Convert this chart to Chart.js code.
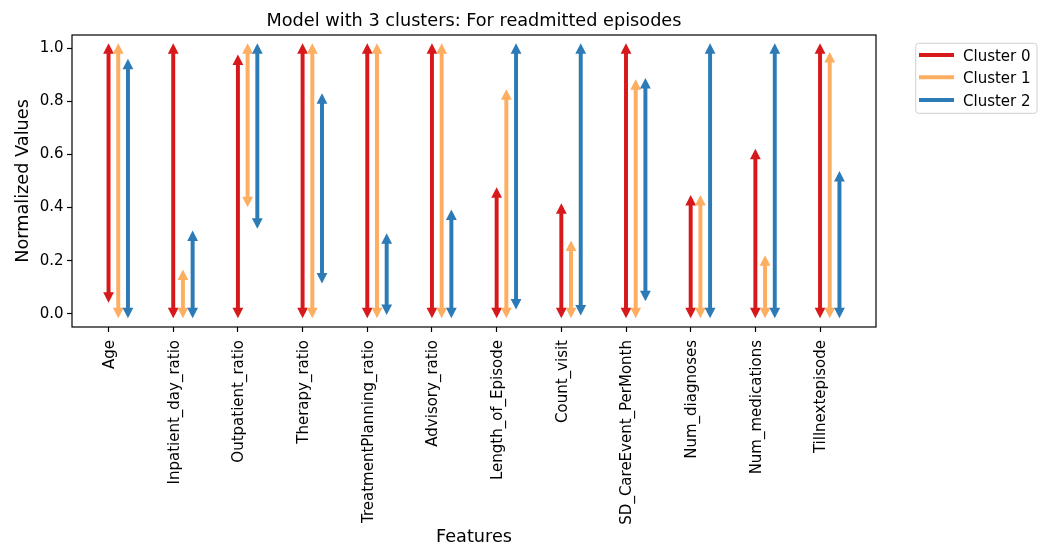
<!DOCTYPE html>
<html>
<head>
<meta charset="utf-8">
<script src="https://cdn.jsdelivr.net/npm/chart.js@4.4.1/dist/chart.umd.min.js"></script>
<style>
  html, body { margin: 0; padding: 0; background: #ffffff; }
  #wrap { width: 1051px; height: 546px; }
</style>
</head>
<body>
<div id="wrap"><canvas id="c" width="1051" height="546"></canvas></div>
<script>
// Features on the x axis
const features = ['Age', 'Inpatient_day_ratio', 'Outpatient_ratio', 'Therapy_ratio',
  'TreatmentPlanning_ratio', 'Advisory_ratio', 'Length_of_Episode', 'Count_visit',
  'SD_CareEvent_PerMonth', 'Num_diagnoses', 'Num_medications', 'Tillnextepisode'];

// Normalized min / max per feature for each cluster
const cluster0Min = [0.06, 0, 0, 0, 0, 0, 0, 0, 0, 0, 0, 0];
const cluster0Max = [1, 1, 0.958, 1, 1, 1, 0.458, 0.397, 1, 0.428, 0.603, 1];
const cluster1Min = [0, 0, 0.42, 0, 0, 0, 0, 0, 0, 0, 0, 0];
const cluster1Max = [1, 0.148, 1, 1, 1, 1, 0.827, 0.257, 0.864, 0.428, 0.201, 0.967];
const cluster2Min = [0, 0, 0.339, 0.133, 0.014, 0, 0.035, 0.012, 0.066, 0, 0, 0];
const cluster2Max = [0.942, 0.295, 1, 0.812, 0.284, 0.374, 1, 1, 0.869, 1, 1, 0.519];

const clusterNames = ['Cluster 0', 'Cluster 1', 'Cluster 2'];
const yTicks = [0.0, 0.2, 0.4, 0.6, 0.8, 1.0];

const colors = ['#d7191c', '#fdae61', '#2c7bb6'];
const offsets = [0, 0.15, 0.3];
const FONT = "'DejaVu Sans', sans-serif";

function rangeData(mins, maxs, off) {
  return features.map((f, i) => ({ x: i + off, y: [mins[i], maxs[i]] }));
}

const ranges = [[cluster0Min, cluster0Max], [cluster1Min, cluster1Max], [cluster2Min, cluster2Max]];

const datasets = ranges.map((r, k) => ({
  label: clusterNames[k],
  data: rangeData(r[0], r[1], offsets[k]),
  backgroundColor: colors[k],
  borderWidth: 0,
  barThickness: 3.3,
  grouped: false
}));

// Arrow heads at both ends of each range, plus frame, titles and legend
const decorations = {
  id: 'decorations',
  afterDatasetsDraw(chart) {
    const ctx = chart.ctx;
    const headLen = 10.5, halfW = 5.4, over = 5;
    chart.data.datasets.forEach((ds, d) => {
      const meta = chart.getDatasetMeta(d);
      ctx.save();
      ctx.fillStyle = ds.backgroundColor;
      meta.data.forEach(el => {
        const p = el.getProps(['x', 'y', 'base'], true);
        const top = Math.min(p.y, p.base), bot = Math.max(p.y, p.base);
        // upper head
        ctx.beginPath();
        ctx.moveTo(p.x, top - over);
        ctx.lineTo(p.x - halfW, top - over + headLen);
        ctx.lineTo(p.x + halfW, top - over + headLen);
        ctx.closePath();
        ctx.fill();
        // lower head
        ctx.beginPath();
        ctx.moveTo(p.x, bot + over);
        ctx.lineTo(p.x - halfW, bot + over - headLen);
        ctx.lineTo(p.x + halfW, bot + over - headLen);
        ctx.closePath();
        ctx.fill();
      });
      ctx.restore();
    });
  },
  afterDraw(chart) {
    const ctx = chart.ctx;
    const a = chart.chartArea;
    ctx.save();
    // axes frame
    ctx.strokeStyle = '#000000';
    ctx.lineWidth = 1.2;
    ctx.strokeRect(a.left, a.top, a.right - a.left, a.bottom - a.top);

    // title
    ctx.fillStyle = '#000000';
    ctx.font = '17.7px ' + FONT;
    ctx.textAlign = 'center';
    ctx.textBaseline = 'alphabetic';
    ctx.fillText('Model with 3 clusters: For readmitted episodes', (a.left + a.right) / 2, 26);

    // axis titles
    ctx.fillText('Features', (a.left + a.right) / 2, 542);
    ctx.save();
    ctx.translate(28, (a.top + a.bottom) / 2);
    ctx.rotate(-Math.PI / 2);
    ctx.fillText('Normalized Values', 0, 0);
    ctx.restore();

    // legend
    const lx = 915.7, ly = 43.3, lw = 121.3, lh = 70, r = 3;
    ctx.beginPath();
    ctx.moveTo(lx + r, ly);
    ctx.lineTo(lx + lw - r, ly);
    ctx.arcTo(lx + lw, ly, lx + lw, ly + r, r);
    ctx.lineTo(lx + lw, ly + lh - r);
    ctx.arcTo(lx + lw, ly + lh, lx + lw - r, ly + lh, r);
    ctx.lineTo(lx + r, ly + lh);
    ctx.arcTo(lx, ly + lh, lx, ly + lh - r, r);
    ctx.lineTo(lx, ly + r);
    ctx.arcTo(lx, ly, lx + r, ly, r);
    ctx.closePath();
    ctx.fillStyle = 'rgba(255,255,255,0.8)';
    ctx.fill();
    ctx.strokeStyle = '#d0d0d0';
    ctx.lineWidth = 1;
    ctx.stroke();

    const rows = [55, 77.3, 100];
    ctx.font = '15px ' + FONT;
    ctx.textAlign = 'left';
    clusterNames.forEach((name, k) => {
      ctx.strokeStyle = colors[k];
      ctx.lineWidth = 4;
      ctx.lineCap = 'butt';
      ctx.beginPath();
      ctx.moveTo(919, rows[k]);
      ctx.lineTo(954, rows[k]);
      ctx.stroke();
      ctx.fillStyle = '#000000';
      ctx.fillText(name, 963, rows[k] + 5.6);
    });
    ctx.restore();
  }
};

new Chart(document.getElementById('c'), {
  type: 'bar',
  data: { datasets },
  plugins: [decorations],
  options: {
    responsive: false,
    animation: false,
    events: [],
    layout: { padding: { left: 0, right: 175, top: 35, bottom: 0 } },
    plugins: {
      legend: { display: false },
      title: { display: false },
      tooltip: { enabled: false }
    },
    scales: {
      x: {
        type: 'linear',
        position: 'bottom',
        min: -0.565,
        max: 11.865,
        offset: false,
        afterBuildTicks(scale) {
          scale.ticks = features.map((f, i) => ({ value: i }));
        },
        afterFit(scale) { scale.height = 219; },
        ticks: {
          autoSkip: false,
          maxRotation: 90,
          minRotation: 90,
          padding: 8,
          labelOffset: 1.5,
          color: '#000000',
          font: { family: FONT, size: 15 },
          callback: (v) => features[v]
        },
        grid: {
          display: true,
          offset: false,
          drawOnChartArea: false,
          drawTicks: true,
          tickLength: 5,
          tickWidth: 1.2,
          color: '#000000'
        },
        border: { display: false }
      },
      y: {
        type: 'linear',
        position: 'left',
        min: -0.05,
        max: 1.05,
        afterBuildTicks(scale) {
          scale.ticks = yTicks.map(v => ({ value: v }));
        },
        afterFit(scale) { scale.width = 72; },
        ticks: {
          padding: 3.5,
          color: '#000000',
          font: { family: FONT, size: 15 },
          callback: (v) => Number(v).toFixed(1)
        },
        grid: {
          display: true,
          drawOnChartArea: false,
          drawTicks: true,
          tickLength: 5,
          tickWidth: 1.2,
          color: '#000000'
        },
        border: { display: false }
      }
    }
  }
});
</script>
</body>
</html>
